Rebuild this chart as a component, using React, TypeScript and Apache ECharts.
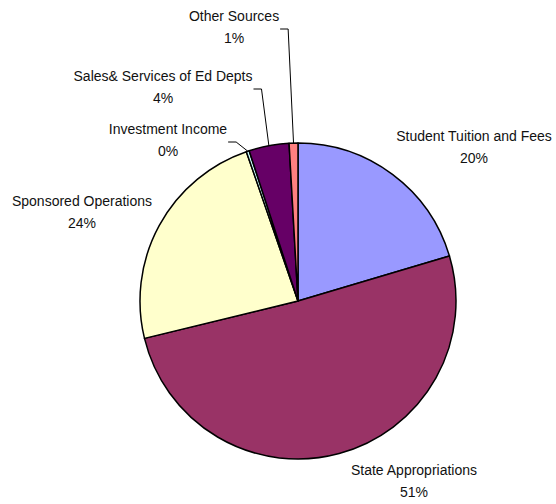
import React, { useEffect, useRef } from "react";
import * as echarts from "echarts";

const categories = [
  "Student Tuition and Fees",
  "State Appropriations",
  "Sponsored Operations",
  "Investment Income",
  "Sales& Services of Ed Depts",
  "Other Sources",
];
const values = [20.4, 50.8, 23.5, 0.3, 4.1, 0.9];
const colors = ["#9999FF", "#993366", "#FFFFCC", "#CCFFFF", "#660066", "#FF8080"];
// label anchor centers (x, y) for each category
const labelPos: [number, number][] = [
  [474, 147],
  [414, 481],
  [82, 212],
  [168, 140],
  [163, 87],
  [234, 27],
];
const withLeader = [false, false, false, true, true, true];

export default function App() {
  const ref = useRef<HTMLDivElement>(null);
  useEffect(() => {
    document.body.style.margin = "0";
    const chart = echarts.init(ref.current!, null, { renderer: "svg" });
    chart.setOption({
      animation: false,
      backgroundColor: "#ffffff",
      series: [
        {
          type: "pie",
          center: [298, 301],
          radius: 158,
          startAngle: 90,
          clockwise: true,
          avoidLabelOverlap: false,
          itemStyle: { borderColor: "#000000", borderWidth: 1.5 },
          label: {
            show: true,
            position: "outside",
            color: "#111111",
            fontFamily: "Liberation Sans, Arial, sans-serif",
            fontSize: 14,
            lineHeight: 22,
            align: "center",
            formatter: (p: any) => `${p.name}\n${Math.round(p.value)}%`,
          },
          labelLine: { lineStyle: { color: "#000000", width: 1 } },
          labelLayout: (params: any) => {
            const i = params.dataIndex;
            const [x, y] = labelPos[i];
            const res: any = { x, y, align: "center", verticalAlign: "middle" };
            if (withLeader[i] && params.labelLinePoints) {
              const hw = params.labelRect.width / 2;
              const ly = y + 2;
              const edge = params.labelLinePoints[0];
              res.labelLinePoints = [
                edge,
                [x + hw + 9, ly],
                [x + hw + 1, ly],
              ];
            }
            return res;
          },
          data: categories.map((name, i) => ({
            name,
            value: values[i],
            itemStyle: { color: colors[i] },
            labelLine: { show: withLeader[i], length: 10, length2: 10 },
          })),
        },
      ],
    });
    return () => chart.dispose();
  }, []);
  return <div ref={ref} style={{ width: 556, height: 504 }} />;
}
